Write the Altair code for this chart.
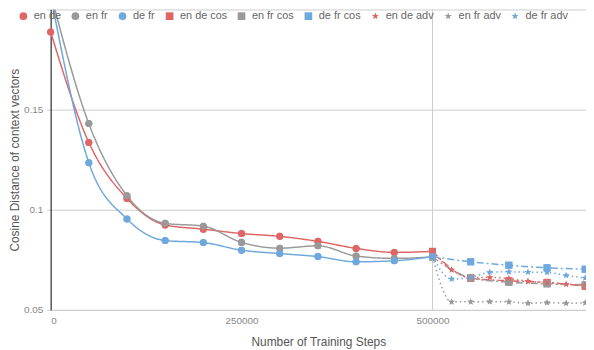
import altair as alt
import pandas as pd

# ---- data ----
series_names = ["en de", "en fr", "de fr", "en de cos", "en fr cos", "de fr cos",
                "en de adv", "en fr adv", "de fr adv"]

steps_main = [0, 50000, 100000, 150000, 200000, 250000, 300000, 350000, 400000, 450000, 500000]
en_de = [0.1888, 0.1336, 0.1056, 0.0924, 0.0903, 0.0881, 0.0867, 0.0842, 0.0807, 0.0787, 0.0792]
en_fr = [0.208, 0.143, 0.107, 0.0932, 0.0918, 0.0837, 0.0808, 0.0820, 0.0769, 0.0757, 0.0764]
de_fr = [0.207, 0.1235, 0.0954, 0.0846, 0.0836, 0.0798, 0.0781, 0.0766, 0.0740, 0.0745, 0.0766]

steps_cos = [500000, 550000, 600000, 650000, 700000]
en_de_cos = [0.0792, 0.0658, 0.0645, 0.0637, 0.0618]
en_fr_cos = [0.0764, 0.0660, 0.0638, 0.0630, 0.0625]
de_fr_cos = [0.0766, 0.0740, 0.0723, 0.0710, 0.0703]

steps_adv = [500000, 525000, 550000, 575000, 600000, 625000, 650000, 675000, 700000]
en_de_adv = [0.0792, 0.0700, 0.0662, 0.0662, 0.0656, 0.0643, 0.0636, 0.0628, 0.0622]
en_fr_adv = [0.0764, 0.0540, 0.0540, 0.0541, 0.0540, 0.0533, 0.0536, 0.0533, 0.0535]
de_fr_adv = [0.0766, 0.0654, 0.0662, 0.0688, 0.0690, 0.0688, 0.0687, 0.0672, 0.0659]

x_ticks = [0, 250000, 500000]
y_ticks = [0.05, 0.1, 0.15, 0.2]
split_step = [500000]

# ---- build long table ----
parts = [
    ("en de", steps_main, en_de), ("en fr", steps_main, en_fr), ("de fr", steps_main, de_fr),
    ("en de cos", steps_cos, en_de_cos), ("en fr cos", steps_cos, en_fr_cos), ("de fr cos", steps_cos, de_fr_cos),
    ("en de adv", steps_adv, en_de_adv), ("en fr adv", steps_adv, en_fr_adv), ("de fr adv", steps_adv, de_fr_adv),
]
rows = []
for name, xs, ys in parts:
    for i, (s, v) in enumerate(zip(xs, ys)):
        rows.append({"series": name, "step": s, "value": v, "order": i})
df = pd.DataFrame(rows)

RED, GRAY, BLUE = "#e06666", "#999999", "#6fa8dc"
colors = [RED, GRAY, BLUE] * 3
STAR = "M0,-1L0.24,-0.33L0.95,-0.31L0.38,0.12L0.59,0.81L0,0.4L-0.59,0.81L-0.38,0.12L-0.95,-0.31L-0.24,-0.33Z"
shapes = ["circle"] * 3 + ["square"] * 3 + [STAR] * 3
dashes = [[1, 0]] * 3 + [[7, 3, 2, 3]] * 3 + [[1.5, 3]] * 3

x_enc = alt.X("step:Q",
              scale=alt.Scale(domain=[0, 701000], nice=False),
              axis=alt.Axis(values=x_ticks, format="d", grid=False, ticks=False,
                            domainColor="#cccccc", labelColor="#888888", labelFontSize=10,
                            labelPadding=6, title="Number of Training Steps",
                            titleFontSize=12, titleFontWeight="normal", titleColor="#555555",
                            titlePadding=11))
y_enc = alt.Y("value:Q",
              scale=alt.Scale(domain=[0.05, 0.2], nice=False, zero=False),
              axis=alt.Axis(values=y_ticks,
                            labelExpr="datum.value >= 0.2 ? '' : format(datum.value, '~g')",
                            gridColor="#cccccc", tickColor="#cccccc", tickSize=4,
                            domainColor="#000000", labelColor="#888888", labelFontSize=10,
                            labelPadding=4, title="Cosine Distance of context vectors",
                            titleFontSize=12, titleFontWeight="normal", titleColor="#555555",
                            titlePadding=2))

legend_spec = alt.Legend(title=None, orient="none", direction="horizontal",
                         columns=9, legendX=-33, legendY=1)
color_enc = alt.Color("series:N", scale=alt.Scale(domain=series_names, range=colors),
                      legend=legend_spec)
shape_enc = alt.Shape("series:N", scale=alt.Scale(domain=series_names, range=shapes),
                      legend=legend_spec)

base = alt.Chart(df)

points = base.transform_filter("datum.value <= 0.2").mark_point(
    filled=True, opacity=1, size=50).encode(
    x=x_enc, y=y_enc, color=color_enc, shape=shape_enc,
)

lines = base.mark_line(interpolate="monotone", strokeWidth=1.5, clip=True).encode(
    x=x_enc, y=y_enc,
    color=color_enc,
    strokeDash=alt.StrokeDash("series:N", scale=alt.Scale(domain=series_names, range=dashes), legend=None),
    order="order:Q",
)

rule = alt.Chart(pd.DataFrame({"step": split_step})).mark_rule(color="#cccccc", strokeWidth=1).encode(
    x=alt.X("step:Q", scale=alt.Scale(domain=[0, 701000], nice=False))
)

chart = alt.layer(points, rule, lines, points).properties(
    width=540, height=303,
    autosize=alt.AutoSizeParams(type="none"),
    padding={"left": 43, "top": 0, "right": 0, "bottom": 39},
).configure(font="Liberation Sans").configure_view(stroke=None).configure_legend(
    labelFontSize=11, labelColor="#666666", symbolSize=60, labelOffset=5,
    columnPadding=8.5, padding=0, symbolStrokeWidth=0,
)

chart.save("out.html", embed_options={"renderer": "svg", "actions": False})
